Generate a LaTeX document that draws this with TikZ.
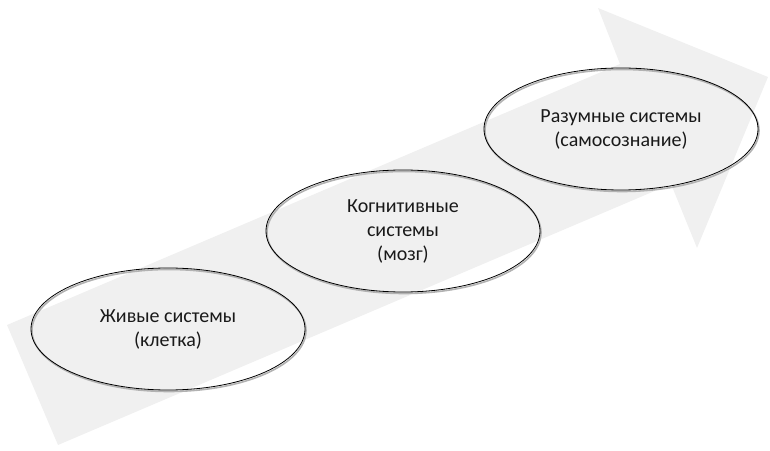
\documentclass[tikz,border=0pt]{standalone}
\usepackage{fontspec}
\setmainfont{Carlito}
\usepackage{tikz}
\usetikzlibrary{shapes.geometric, positioning}

\begin{document}
\begin{tikzpicture}[x=1pt, y=1pt, stage/.style={ellipse, draw, thick, minimum width=274pt, minimum height=122pt, inner sep=0pt, align=center, font=\fontsize{20}{24}\selectfont, text=black!90, preaction={draw=black!30, line width=1.6pt, transform canvas={shift={(1pt,-1.5pt)}}}}]
\useasboundingbox (0,0) rectangle (770,450);
\fill[black!6] (7,125) -- (620,386) -- (598,442) -- (768,373) -- (697,202) -- (671,266) -- (58,5) -- cycle;
\node[stage] (LIVE) at (168,121) {Живые системы\\(клетка)};
\node[stage] (COG)  at (403,219) {Когнитивные\\системы\\(мозг)};
\node[stage] (MIND) at (621,321) {Разумные системы\\(самосознание)};
\end{tikzpicture}
\end{document}
